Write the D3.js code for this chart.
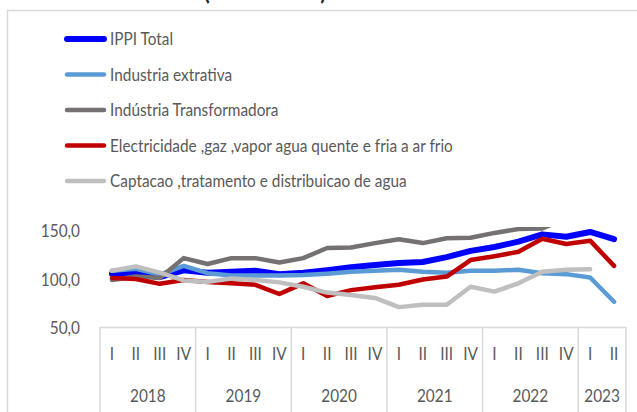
<!DOCTYPE html>
<html>
<head>
<meta charset="utf-8">
<script src="https://cdn.jsdelivr.net/npm/d3@7"></script>
<style>
body { margin: 0; background: #fff; }
text { font-family: Lato, "Open Sans", sans-serif; }
</style>
</head>
<body>
<div id="chart"></div>
<script>
// data (index, quarterly)
const years = ["2018", "2019", "2020", "2021", "2022", "2023"];
const quartersPerYear = [4, 4, 4, 4, 4, 2];
const quarterNames = ["I", "II", "III", "IV"];
const yTicks = [50, 100, 150];

const ippiTotal      = [105, 105.5, 101.5, 108.5, 106, 107, 108, 104.5, 106, 108.5, 111.5, 114, 116, 117, 122, 128.5, 132.5, 138, 145.5, 143, 148, 140.5];
const extrativa      = [108, 110, 104, 113, 105.5, 103, 103, 103, 103.5, 105, 107, 108, 109, 107, 106, 108, 108, 109, 105.5, 104.5, 101, 76];
const transformadora = [98.5, 102, 100.5, 121, 115, 121, 121, 116.5, 121, 131.5, 132, 136.5, 140.5, 136.5, 141.5, 142, 147, 151, 151.5, 162, 168, 165];
const electricidade  = [100.5, 99.5, 94.5, 98.5, 96.5, 95, 93.5, 84, 95, 82, 88, 91, 93.5, 99, 102, 119, 123, 127.5, 141, 135.5, 139, 113];
const captacao       = [108, 112.5, 106, 98, 96.5, 100, 98.5, 96, 91.5, 85.5, 83, 80, 70.5, 73, 73, 91.5, 86.5, 95, 107, 109, 109.5, null];

const seriesNames  = ["IPPI Total", "Industria extrativa", "Indústria Transformadora", "Electricidade ,gaz ,vapor agua quente e fria a ar frio", "Captacao ,tratamento e distribuicao de agua"];
const seriesValues = [ippiTotal, extrativa, transformadora, electricidade, captacao];
const seriesColors = ["#0000ff", "#5b9bd5", "#767171", "#c00000", "#bfbfbf"];
const seriesWidths = [6, 4.5, 4.5, 4.5, 4.5];

const WIDTH = 637;
const HEIGHT = 412;
const FS = 17.5;
const TEXT_COLOR = "#595959";

const svg = d3.select("#chart").append("svg")
    .attr("width", WIDTH)
    .attr("height", HEIGHT);

// chart area border
svg.append("path")
    .attr("d", `M7.5,${HEIGHT} V10.5 H${WIDTH}`)
    .attr("fill", "none")
    .attr("stroke", "#d9d9d9")
    .attr("stroke-width", 1.5);

// title, mostly above the visible area
svg.append("text")
    .attr("x", 265).attr("y", 0)
    .attr("text-anchor", "middle")
    .style("font-size", "22px").style("font-weight", 700)
    .attr("fill", "#262626")
    .text("(2018-2023)");

// measure how much to squeeze text horizontally
const probe = svg.append("text").style("font-size", FS + "px").text(seriesNames[3]);
const squeeze = 343 / probe.node().getComputedTextLength();
probe.remove();

function label(g, x, yy, str, anchor) {
    return g.append("text")
        .attr("transform", `translate(${x},${yy}) scale(${squeeze},1)`)
        .attr("text-anchor", anchor || "start")
        .attr("dominant-baseline", "central")
        .style("font-size", FS + "px")
        .attr("fill", TEXT_COLOR)
        .text(str);
}

// periods
const periods = [];
years.forEach((yr, i) => {
    for (let q = 0; q < quartersPerYear[i]; q++) periods.push({ year: yr, q: quarterNames[q] });
});

const x = d3.scaleBand()
    .domain(d3.range(periods.length))
    .range([100, 626]);

const y = d3.scaleLinear()
    .domain([50, 150])
    .range([327, 230]);

const fmt = d3.formatLocale({ decimal: ",", thousands: ".", grouping: [3], currency: ["", ""] }).format(".1f");

// y tick labels
const yg = svg.append("g");
yTicks.forEach(t => label(yg, 80, y(t) + 1, fmt(t), "end"));

// category axis
const xg = svg.append("g");
xg.append("line")
    .attr("x1", x.range()[0]).attr("x2", x.range()[1])
    .attr("y1", y(50) + 0.5).attr("y2", y(50) + 0.5)
    .attr("stroke", "#d9d9d9").attr("stroke-width", 1.5);

let start = 0;
const bounds = [0];
quartersPerYear.forEach(n => { start += n; bounds.push(start); });
bounds.forEach(b => {
    const bx = b < periods.length ? x(b) : x.range()[1];
    xg.append("line")
        .attr("x1", bx).attr("x2", bx)
        .attr("y1", y(50)).attr("y2", HEIGHT)
        .attr("stroke", "#d9d9d9").attr("stroke-width", 1.5);
});
periods.forEach((p, i) => label(xg, x(i) + x.bandwidth() / 2, 354, p.q, "middle"));
years.forEach((yr, i) => {
    const x0 = x(bounds[i]);
    const x1 = bounds[i + 1] < periods.length ? x(bounds[i + 1]) : x.range()[1];
    label(xg, (x0 + x1) / 2, 396, yr, "middle");
});

// plot clip
svg.append("clipPath").attr("id", "plot")
    .append("rect")
    .attr("x", x.range()[0]).attr("y", y(150) - 3)
    .attr("width", x.range()[1] - x.range()[0])
    .attr("height", y(50) - y(150) + 3);

const line = d3.line()
    .defined(d => d != null)
    .x((d, i) => x(i) + x.bandwidth() / 2)
    .y(d => y(d));

svg.append("g").attr("clip-path", "url(#plot)")
    .selectAll("path")
    .data(seriesValues)
    .enter().append("path")
    .attr("d", d => line(d))
    .attr("fill", "none")
    .attr("stroke", (d, i) => seriesColors[i])
    .attr("stroke-width", (d, i) => seriesWidths[i])
    .attr("stroke-linejoin", "round")
    .attr("stroke-linecap", "round");

// legend
const lg = svg.append("g");
seriesNames.forEach((name, i) => {
    const ly = 39 + i * 35.5;
    lg.append("line")
        .attr("x1", 67).attr("x2", 104)
        .attr("y1", ly).attr("y2", ly)
        .attr("stroke", seriesColors[i])
        .attr("stroke-width", seriesWidths[i])
        .attr("stroke-linecap", "round");
    label(lg, 110, ly, name);
});
</script>
</body>
</html>
